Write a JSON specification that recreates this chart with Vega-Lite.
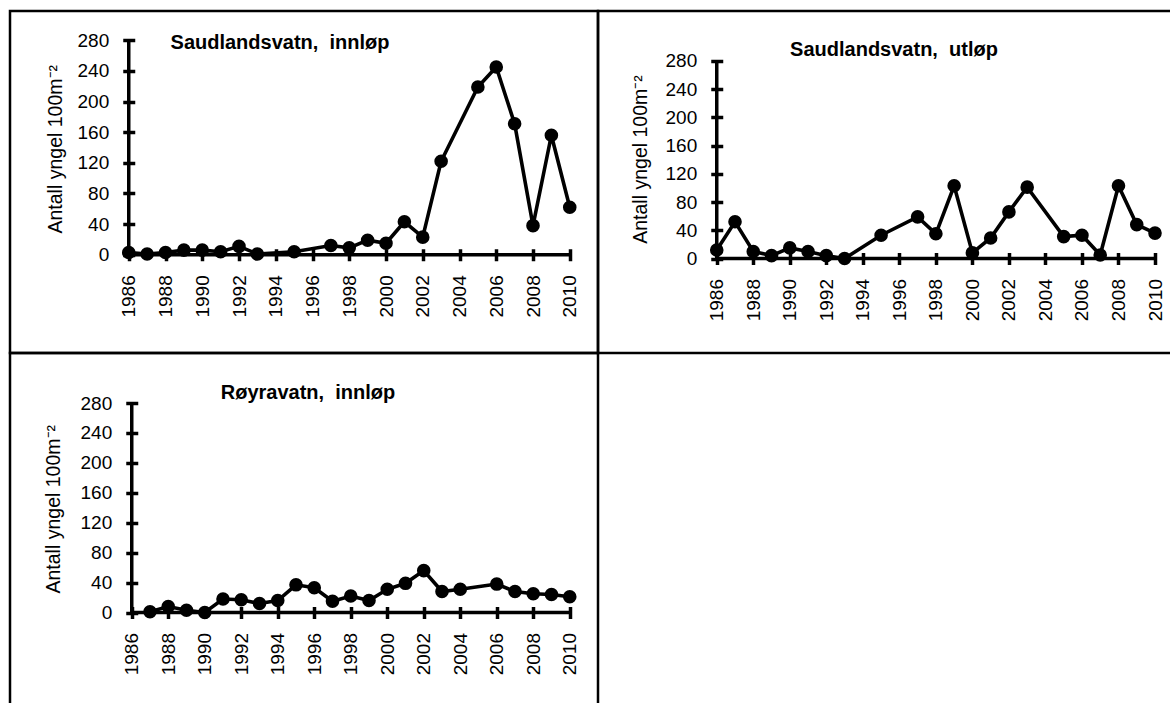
{
  "$schema": "https://vega.github.io/schema/vega-lite/v6.json",
  "padding": {"left": 8, "top": 9, "right": 0, "bottom": 0},
  "data": {
    "values": [
      {"lok": "SI", "aar": 1986, "antall": 3},
      {"lok": "SI", "aar": 1987, "antall": 1},
      {"lok": "SI", "aar": 1988, "antall": 3},
      {"lok": "SI", "aar": 1989, "antall": 6},
      {"lok": "SI", "aar": 1990, "antall": 6},
      {"lok": "SI", "aar": 1991, "antall": 4},
      {"lok": "SI", "aar": 1992, "antall": 11},
      {"lok": "SI", "aar": 1993, "antall": 1},
      {"lok": "SI", "aar": 1995, "antall": 4},
      {"lok": "SI", "aar": 1997, "antall": 12},
      {"lok": "SI", "aar": 1998, "antall": 9},
      {"lok": "SI", "aar": 1999, "antall": 19},
      {"lok": "SI", "aar": 2000, "antall": 15},
      {"lok": "SI", "aar": 2001, "antall": 43},
      {"lok": "SI", "aar": 2002, "antall": 23},
      {"lok": "SI", "aar": 2003, "antall": 122},
      {"lok": "SI", "aar": 2005, "antall": 219},
      {"lok": "SI", "aar": 2006, "antall": 245},
      {"lok": "SI", "aar": 2007, "antall": 171},
      {"lok": "SI", "aar": 2008, "antall": 38},
      {"lok": "SI", "aar": 2009, "antall": 156},
      {"lok": "SI", "aar": 2010, "antall": 62},
      {"lok": "SU", "aar": 1986, "antall": 12},
      {"lok": "SU", "aar": 1987, "antall": 52},
      {"lok": "SU", "aar": 1988, "antall": 10},
      {"lok": "SU", "aar": 1989, "antall": 4},
      {"lok": "SU", "aar": 1990, "antall": 15},
      {"lok": "SU", "aar": 1991, "antall": 10},
      {"lok": "SU", "aar": 1992, "antall": 4},
      {"lok": "SU", "aar": 1993, "antall": 0},
      {"lok": "SU", "aar": 1995, "antall": 33},
      {"lok": "SU", "aar": 1997, "antall": 59},
      {"lok": "SU", "aar": 1998, "antall": 35},
      {"lok": "SU", "aar": 1999, "antall": 103},
      {"lok": "SU", "aar": 2000, "antall": 8},
      {"lok": "SU", "aar": 2001, "antall": 29},
      {"lok": "SU", "aar": 2002, "antall": 66},
      {"lok": "SU", "aar": 2003, "antall": 101},
      {"lok": "SU", "aar": 2005, "antall": 31},
      {"lok": "SU", "aar": 2006, "antall": 33},
      {"lok": "SU", "aar": 2007, "antall": 5},
      {"lok": "SU", "aar": 2008, "antall": 103},
      {"lok": "SU", "aar": 2009, "antall": 48},
      {"lok": "SU", "aar": 2010, "antall": 36},
      {"lok": "RI", "aar": 1987, "antall": 1},
      {"lok": "RI", "aar": 1988, "antall": 8},
      {"lok": "RI", "aar": 1989, "antall": 3},
      {"lok": "RI", "aar": 1990, "antall": 0},
      {"lok": "RI", "aar": 1991, "antall": 18},
      {"lok": "RI", "aar": 1992, "antall": 17},
      {"lok": "RI", "aar": 1993, "antall": 12},
      {"lok": "RI", "aar": 1994, "antall": 16},
      {"lok": "RI", "aar": 1995, "antall": 37},
      {"lok": "RI", "aar": 1996, "antall": 33},
      {"lok": "RI", "aar": 1997, "antall": 15},
      {"lok": "RI", "aar": 1998, "antall": 22},
      {"lok": "RI", "aar": 1999, "antall": 16},
      {"lok": "RI", "aar": 2000, "antall": 31},
      {"lok": "RI", "aar": 2001, "antall": 39},
      {"lok": "RI", "aar": 2002, "antall": 56},
      {"lok": "RI", "aar": 2003, "antall": 28},
      {"lok": "RI", "aar": 2004, "antall": 31},
      {"lok": "RI", "aar": 2006, "antall": 38},
      {"lok": "RI", "aar": 2007, "antall": 28},
      {"lok": "RI", "aar": 2008, "antall": 25},
      {"lok": "RI", "aar": 2009, "antall": 24},
      {"lok": "RI", "aar": 2010, "antall": 21}
    ]
  },
  "columns": 2,
  "spacing": 0,
  "bounds": "flush",
  "concat": [
    {
      "width": 588,
      "height": 342,
      "title": {"text": "Saudlandsvatn,\u00a0 innløp", "dx": -24, "offset": -42},
      "layer": [
        {
          "transform": [{"filter": "datum.lok === 'SI'"}],
          "mark": {"type": "line", "color": "black", "strokeWidth": 3.6},
          "encoding": {
            "x": {
              "field": "aar", "type": "quantitative",
              "scale": {"domain": [1986, 2010], "range": [118.75, 559.75], "nice": false, "zero": false},
              "axis": {
                "title": null, "offset": -104.25, "format": "d", "labelAngle": -90,
                "values": [1986,1987,1988,1989,1990,1991,1992,1993,1994,1995,1996,1997,1998,1999,2000,2001,2002,2003,2004,2005,2006,2007,2008,2009,2010],
                "labelExpr": "datum.value % 2 === 0 ? datum.label : ''"
              }
            },
            "y": {
              "field": "antall", "type": "quantitative",
              "scale": {"domain": [0, 280], "range": [243.75, 29.25], "nice": false},
              "axis": {
                "title": "Antall yngel 100m⁻²", "offset": -124.75,
                "values": [0, 40, 80, 120, 160, 200, 240, 280],
                "titleX": -79, "titleY": 137.75
              }
            }
          }
        },
        {"data": {"values": [{"del": "x"}]}, "mark": {"type": "rule", "color": "black", "strokeWidth": 3.5},
         "encoding": {"x": {"datum": 1986}, "x2": {"datum": 2010}, "y": {"datum": 0}}},
        {"data": {"values": [{"del": "y"}]}, "mark": {"type": "rule", "color": "black", "strokeWidth": 3.5},
         "encoding": {"x": {"datum": 1986}, "y": {"datum": 0}, "y2": {"datum": 280}}},
        {
          "transform": [{"filter": "datum.lok === 'SI'"}],
          "mark": {"type": "circle", "color": "black", "opacity": 1, "size": 185},
          "encoding": {"x": {"field": "aar", "type": "quantitative"}, "y": {"field": "antall", "type": "quantitative"}}
        }
      ]
    },
    {
      "width": 572,
      "height": 342,
      "view": {"strokeDash": [572, 342, 914, 1]},
      "title": {"text": "Saudlandsvatn,\u00a0 utløp", "dx": 10, "offset": -49},
      "layer": [
        {
          "transform": [{"filter": "datum.lok === 'SU'"}],
          "mark": {"type": "line", "color": "black", "strokeWidth": 3.6},
          "encoding": {
            "x": {
              "field": "aar", "type": "quantitative",
              "scale": {"domain": [1986, 2010], "range": [118.75, 557], "nice": false, "zero": false},
              "axis": {
                "title": null, "offset": -100.5, "format": "d", "labelAngle": -90,
                "values": [1986,1987,1988,1989,1990,1991,1992,1993,1994,1995,1996,1997,1998,1999,2000,2001,2002,2003,2004,2005,2006,2007,2008,2009,2010],
                "labelExpr": "datum.value % 2 === 0 ? datum.label : ''"
              }
            },
            "y": {
              "field": "antall", "type": "quantitative",
              "scale": {"domain": [0, 280], "range": [247.5, 49.75], "nice": false},
              "axis": {
                "title": "Antall yngel 100m⁻²", "offset": -124.75,
                "values": [0, 40, 80, 120, 160, 200, 240, 280],
                "titleX": -82, "titleY": 148
              }
            }
          }
        },
        {"data": {"values": [{"del": "x"}]}, "mark": {"type": "rule", "color": "black", "strokeWidth": 3.5},
         "encoding": {"x": {"datum": 1986}, "x2": {"datum": 2010}, "y": {"datum": 0}}},
        {"data": {"values": [{"del": "y"}]}, "mark": {"type": "rule", "color": "black", "strokeWidth": 3.5},
         "encoding": {"x": {"datum": 1986}, "y": {"datum": 0}, "y2": {"datum": 280}}},
        {
          "transform": [{"filter": "datum.lok === 'SU'"}],
          "mark": {"type": "circle", "color": "black", "opacity": 1, "size": 185},
          "encoding": {"x": {"field": "aar", "type": "quantitative"}, "y": {"field": "antall", "type": "quantitative"}}
        }
      ]
    },
    {
      "width": 588,
      "height": 350,
      "view": {"strokeDash": [938, 588, 350, 1]},
      "title": {"text": "Røyravatn,\u00a0 innløp", "dx": 4, "offset": -50},
      "layer": [
        {
          "transform": [{"filter": "datum.lok === 'RI'"}],
          "mark": {"type": "line", "color": "black", "strokeWidth": 3.6},
          "encoding": {
            "x": {
              "field": "aar", "type": "quantitative",
              "scale": {"domain": [1986, 2010], "range": [121.75, 559.75], "nice": false, "zero": false},
              "axis": {
                "title": null, "offset": -96.5, "format": "d", "labelAngle": -90,
                "values": [1986,1987,1988,1989,1990,1991,1992,1993,1994,1995,1996,1997,1998,1999,2000,2001,2002,2003,2004,2005,2006,2007,2008,2009,2010],
                "labelExpr": "datum.value % 2 === 0 ? datum.label : ''"
              }
            },
            "y": {
              "field": "antall", "type": "quantitative",
              "scale": {"domain": [0, 280], "range": [259.5, 50], "nice": false},
              "axis": {
                "title": "Antall yngel 100m⁻²", "offset": -127.75,
                "values": [0, 40, 80, 120, 160, 200, 240, 280],
                "titleX": -84, "titleY": 155.75
              }
            }
          }
        },
        {"data": {"values": [{"del": "x"}]}, "mark": {"type": "rule", "color": "black", "strokeWidth": 3.5},
         "encoding": {"x": {"datum": 1986}, "x2": {"datum": 2010}, "y": {"datum": 0}}},
        {"data": {"values": [{"del": "y"}]}, "mark": {"type": "rule", "color": "black", "strokeWidth": 3.5},
         "encoding": {"x": {"datum": 1986}, "y": {"datum": 0}, "y2": {"datum": 280}}},
        {
          "transform": [{"filter": "datum.lok === 'RI'"}],
          "mark": {"type": "circle", "color": "black", "opacity": 1, "size": 185},
          "encoding": {"x": {"field": "aar", "type": "quantitative"}, "y": {"field": "antall", "type": "quantitative"}}
        }
      ]
    }
  ],
  "config": {
    "font": "Liberation Sans",
    "background": "white",
    "view": {"stroke": "black", "strokeWidth": 2.5},
    "axis": {
      "grid": false,
      "domain": false,
      "ticks": true,
      "tickColor": "black",
      "tickWidth": 3.5,
      "tickSize": 12,
      "labelColor": "black",
      "labelFont": "Liberation Sans",
      "labelFontSize": 19,
      "labelPadding": 14,
      "labelOverlap": false,
      "labelFlush": false,
      "titleColor": "black",
      "titleFont": "Liberation Sans",
      "titleFontSize": 19.5,
      "titleFontWeight": "normal",
      "titleAngle": 270,
      "titleAlign": "center",
      "titleBaseline": "middle"
    },
    "axisX": {"titleAngle": 0},
    "title": {
      "font": "Liberation Sans",
      "fontSize": 20,
      "fontWeight": "bold",
      "color": "black",
      "anchor": "middle",
      "frame": "group",
      "baseline": "middle"
    }
  }
}
